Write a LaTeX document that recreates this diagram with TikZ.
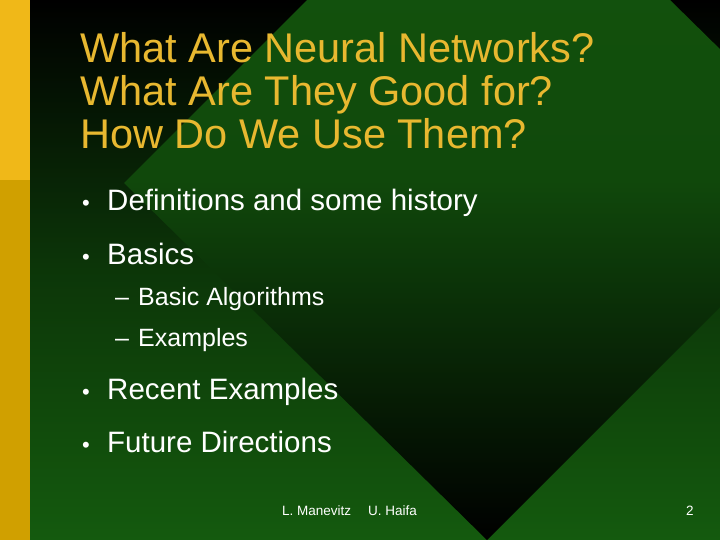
\documentclass[tikz,border=0pt]{standalone}
\usepackage{fontspec}
\setmainfont{Liberation Sans}
\definecolor{bggreen}{HTML}{145A0E}
\definecolor{gold}{HTML}{F0B818}
\definecolor{darkgold}{HTML}{D0A000}
\definecolor{titlegold}{HTML}{E8B830}
\begin{document}
\begin{tikzpicture}[x=1pt,y=-1pt,
  txt/.style={anchor=base west,inner sep=0pt,text=white},
  ttl/.style={anchor=base west,inner sep=0pt,text=titlegold,font=\fontsize{41.5}{44}\selectfont},
  lvl1/.style={txt,font=\fontsize{29.5}{32}\selectfont},
  lvl2/.style={txt,font=\fontsize{25}{28}\selectfont},
  foot/.style={txt,font=\fontsize{13.5}{15}\selectfont}]
\useasboundingbox (0,0) rectangle (720,540);
\shade[top color=black,bottom color=bggreen,middle color=bggreen!60!black] (0,0) rectangle (720,540);
\begin{scope}
\clip (0,0) rectangle (720,540);
\shade[top color=bggreen,bottom color=black,middle color=bggreen!80!black]
  (487,-180) -- (124,183) -- (487,540) -- (850,177) -- cycle;
\end{scope}
\fill[gold] (0,0) rectangle (30,180);
\fill[darkgold] (0,180) rectangle (30,540);
\node[ttl] (t1) at (80,63) {What Are Neural Networks?};
\node[ttl] (t2) at (80,106) {What Are They Good for?};
\node[ttl] (t3) at (80,149) {How Do We Use Them?};
\foreach \y/\t [count=\i] in {211/Definitions and some history,264/Basics,399/Recent Examples,452/Future Directions}{
  \node[lvl1] (b\i) at (82,\y) {\fontsize{22}{24}\selectfont•};
  \node[lvl1] (l\i) at (107,\y) {\t};
}
\node[lvl2] (d1) at (115,305) {–};
\node[lvl2] (s1) at (138,305) {Basic Algorithms};
\node[lvl2] (d2) at (115,346) {–};
\node[lvl2] (s2) at (138,346) {Examples};
\node[foot] (f1) at (282,515) {L. Manevitz};
\node[foot] (f2) at (368,515) {U. Haifa};
\node[foot] (f3) at (686,515) {2};
\end{tikzpicture}
\end{document}
